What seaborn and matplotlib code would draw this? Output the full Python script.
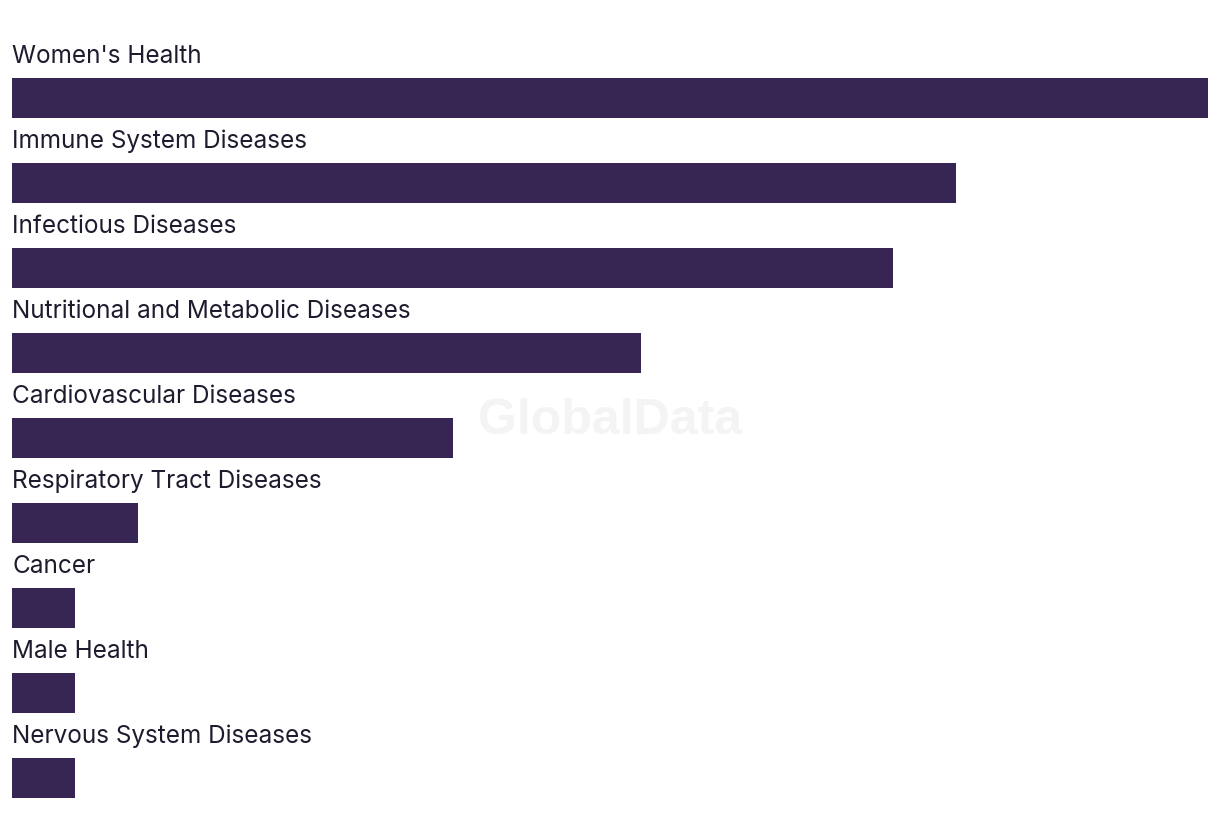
import matplotlib
matplotlib.use("Agg")
import matplotlib.pyplot as plt
import seaborn as sns
import pandas as pd

categories = [
    "Women's Health",
    "Immune System Diseases",
    "Infectious Diseases",
    "Nutritional and Metabolic Diseases",
    "Cardiovascular Diseases",
    "Respiratory Tract Diseases",
    "Cancer",
    "Male Health",
    "Nervous System Diseases",
]
values = [19, 15, 14, 10, 7, 2, 1, 1, 1]

BAR_COLOR = "#372554"
TEXT_COLOR = "#1c1c2e"

sns.set_theme(style="white")
plt.rcParams["font.family"] = ["Inter", "DejaVu Sans"]

df = pd.DataFrame({"category": categories, "value": values})

W, H = 1220, 840
fig = plt.figure(figsize=(W / 100, H / 100), dpi=100)
# axes placed so that each row spans 85 px
left, right = 12, 1208
top, bottom = 13, 820.5
ax = fig.add_axes([left / W, 1 - bottom / H, (right - left) / W, (bottom - top) / H])

sns.barplot(data=df, x="value", y="category", orient="h", color=BAR_COLOR,
            saturation=1, width=40 / 85, linewidth=0, ax=ax)

ax.set_xlim(0, max(values))
ax.set_ylim(len(categories) - 0.5, -1)
for i, cat in enumerate(categories):
    ax.text(0, i - 0.49, cat, ha="left", va="center", fontsize=17.5,
            color=TEXT_COLOR)

ax.set_xlabel("")
ax.set_ylabel("")
ax.set_xticks([])
ax.set_yticks([])
for s in ax.spines.values():
    s.set_visible(False)

fig.text(610 / W, 1 - 421 / H, "GlobalData", ha="center", va="center",
         fontsize=36, fontweight="bold", color="#f4f4f4",
         family=["Liberation Sans", "DejaVu Sans"], zorder=0)

fig.savefig("out.png", dpi=100)
